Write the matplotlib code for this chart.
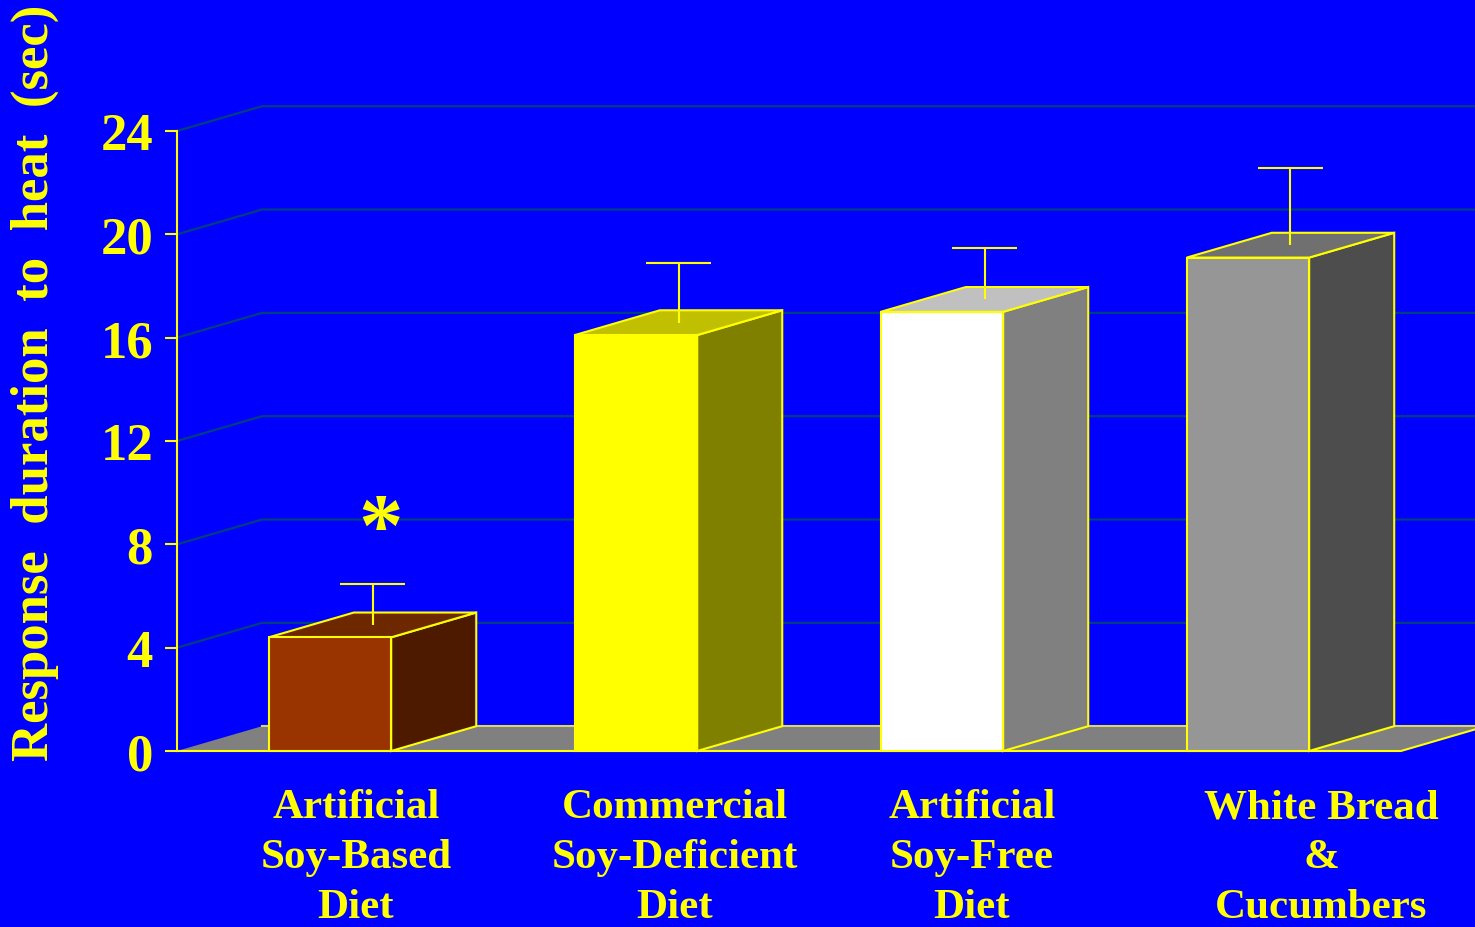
import numpy as np
import matplotlib
matplotlib.use('Agg')
import matplotlib.pyplot as plt
from matplotlib.patches import Polygon

# diet groups and mean response duration (sec) with error
categories = ['Artificial\nSoy-Based\nDiet', 'Commercial\nSoy-Deficient\nDiet',
              'Artificial\nSoy-Free\nDiet', 'White Bread\n&\nCucumbers']
durations = [4.4, 16.1, 17.0, 19.1]
errors = [1.6, 2.3, 2.0, 3.0]
yticks = [0, 4, 8, 12, 16, 20, 24]

# front / top / side shades for each bar
front_colors = ['#993300', '#FFFF00', '#FFFFFF', '#969696']
top_colors = ['#6E2800', '#C0C000', '#C0C0C0', '#707070']
side_colors = ['#4D1A00', '#808000', '#808080', '#4D4D4D']

BG = '#0000FF'
YEL = '#FFFF00'
GRID = '#003F80'
FONT = 'Liberation Serif'

width = 0.40   # bar front width
dx = 0.278     # depth offset in x units
dy = 0.96      # depth offset in y units
cap = 0.105    # half width of error caps
label_shift = [0.085, 0.127, 0.098, 0.239]

fig = plt.figure(figsize=(14.75, 9.28), dpi=100, facecolor=BG)
ax = fig.add_axes([177/1475, 176/928, 1298/1475, 620/928])
ax.set_facecolor(BG)
ax.set_xlim(-0.5, 3.742)
ax.set_ylim(0, 24)

# back-wall grid lines
for t in yticks[1:]:
    ax.plot([-0.5, -0.5 + dx, 4.0], [t, t + dy, t + dy], color=GRID, lw=1.6,
            zorder=1, clip_on=False)

# floor
xs = np.arange(len(durations))
fl, fr = -0.5, 3.5
floor = Polygon([(fl, 0), (fr, 0), (fr + dx, dy), (fl + dx, dy)], closed=True,
                facecolor='#808080', edgecolor='none', zorder=2, clip_on=False)
ax.add_patch(floor)
ax.plot([fl + dx, fr + dx], [dy, dy], color='#D8D860', lw=1.5, zorder=2, clip_on=False)
ax.plot([fl, fr, fr + dx], [0, 0, dy], color=YEL, lw=1.5, zorder=2, clip_on=False)

# 3D bars
for x, v, fc, tc, sc in zip(xs, durations, front_colors, top_colors, side_colors):
    l, r = x - width / 2, x + width / 2
    side = Polygon([(r, 0), (r + dx, dy), (r + dx, v + dy), (r, v)], closed=True,
                   facecolor=sc, edgecolor=YEL, lw=1.5, zorder=3, clip_on=False)
    top = Polygon([(l, v), (r, v), (r + dx, v + dy), (l + dx, v + dy)], closed=True,
                  facecolor=tc, edgecolor=YEL, lw=1.5, zorder=3, clip_on=False)
    front = Polygon([(l, 0), (r, 0), (r, v), (l, v)], closed=True,
                    facecolor=fc, edgecolor=YEL, lw=1.5, zorder=4, clip_on=False)
    for p in (side, top, front):
        ax.add_patch(p)

# error bars rise from the middle of the top face (upper half only)
ex = xs + dx / 2
ey = np.array(durations) + dy / 2
etop = ey + np.array(errors)
ax.vlines(ex, ey, etop, color=YEL, lw=1.5, zorder=5)
ax.hlines(etop, ex - cap, ex + cap, color=YEL, lw=1.5, zorder=5)

# significance marker
ax.text(ex[0] + 0.025, etop[0] + 2.0, '*', color=YEL, fontsize=64,
        family=FONT, fontweight='bold', ha='center', va='center', zorder=6)

# axes styling
for s in ['top', 'right', 'bottom']:
    ax.spines[s].set_visible(False)
ax.spines['left'].set_color(YEL)
ax.spines['left'].set_linewidth(1.5)
ax.spines['left'].set_bounds(0, 24)
ax.spines['left'].set_zorder(6)
ax.set_yticks(yticks)
ax.set_yticklabels([str(t) for t in yticks])
ax.tick_params(axis='y', colors=YEL, length=8.6, width=1.5, pad=8.6,
               labelsize=38, direction='out')
for lab in ax.get_yticklabels():
    lab.set_family(FONT)
    lab.set_fontweight('bold')
ax.set_xticks([])

fig.text(35/1475, 1 - 383/928, 'Response  duration  to  heat  (sec)', rotation=90,
         color=YEL, fontsize=38, family=FONT, fontweight='bold',
         ha='center', va='center')

# category labels under each bar
for x, lab, sh in zip(xs, categories, label_shift):
    ax.text(x + sh, -1.45, lab, color=YEL, fontsize=31, family=FONT,
            fontweight='bold', ha='center', va='top', multialignment='center',
            linespacing=1.4, clip_on=False)

fig.savefig('out.png', dpi=100, facecolor=BG)
